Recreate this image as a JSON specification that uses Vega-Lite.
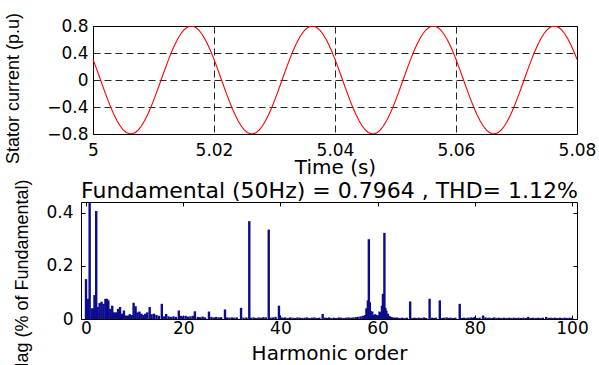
{
"$schema": "https://vega.github.io/schema/vega-lite/v6.json",
"background": "white",
"padding": {"left": 4, "top": 12, "right": 5, "bottom": 0},
"config": {
  "font": "DejaVu Sans",
  "view": {"stroke": "black", "strokeWidth": 1},
  "axis": {"labelFont": "DejaVu Sans", "labelFontSize": 17, "labelColor": "black", "titleFont": "DejaVu Sans", "titleFontWeight": "normal", "titleFontSize": 20, "titleColor": "black", "domainColor": "black", "tickColor": "black", "labelFlush": false, "labelOverlap": false, "grid": false}
},
"datasets": {
"wave": [
{"t":5,"i":0.3061},{"t":5.0005,"i":0.1868},{"t":5.001,"i":0.0628},{"t":5.0015,"i":-0.0628},{"t":5.002,"i":-0.1868},{"t":5.0025,"i":-0.3061},{"t":5.003,"i":-0.418},{"t":5.0035,"i":-0.5196},{"t":5.004,"i":-0.6083},{"t":5.0045,"i":-0.6821},{"t":5.005,"i":-0.7391},{"t":5.0055,"i":-0.7779},{"t":5.006,"i":-0.7975},{"t":5.0065,"i":-0.7975},{"t":5.007,"i":-0.7779},{"t":5.0075,"i":-0.7391},{"t":5.008,"i":-0.6821},{"t":5.0085,"i":-0.6083},{"t":5.009,"i":-0.5196},{"t":5.0095,"i":-0.418},{"t":5.01,"i":-0.3061},{"t":5.0105,"i":-0.1868},{"t":5.011,"i":-0.0628},{"t":5.0115,"i":0.0628},{"t":5.012,"i":0.1868},{"t":5.0125,"i":0.3061},{"t":5.013,"i":0.418},{"t":5.0135,"i":0.5196},{"t":5.014,"i":0.6083},{"t":5.0145,"i":0.6821},{"t":5.015,"i":0.7391},{"t":5.0155,"i":0.7779},{"t":5.016,"i":0.7975},{"t":5.0165,"i":0.7975},{"t":5.017,"i":0.7779},{"t":5.0175,"i":0.7391},{"t":5.018,"i":0.6821},{"t":5.0185,"i":0.6083},{"t":5.019,"i":0.5196},{"t":5.0195,"i":0.418},
{"t":5.02,"i":0.3061},{"t":5.0205,"i":0.1868},{"t":5.021,"i":0.0628},{"t":5.0215,"i":-0.0628},{"t":5.022,"i":-0.1868},{"t":5.0225,"i":-0.3061},{"t":5.023,"i":-0.418},{"t":5.0235,"i":-0.5196},{"t":5.024,"i":-0.6083},{"t":5.0245,"i":-0.6821},{"t":5.025,"i":-0.7391},{"t":5.0255,"i":-0.7779},{"t":5.026,"i":-0.7975},{"t":5.0265,"i":-0.7975},{"t":5.027,"i":-0.7779},{"t":5.0275,"i":-0.7391},{"t":5.028,"i":-0.6821},{"t":5.0285,"i":-0.6083},{"t":5.029,"i":-0.5196},{"t":5.0295,"i":-0.418},{"t":5.03,"i":-0.3061},{"t":5.0305,"i":-0.1868},{"t":5.031,"i":-0.0628},{"t":5.0315,"i":0.0628},{"t":5.032,"i":0.1868},{"t":5.0325,"i":0.3061},{"t":5.033,"i":0.418},{"t":5.0335,"i":0.5196},{"t":5.034,"i":0.6083},{"t":5.0345,"i":0.6821},{"t":5.035,"i":0.7391},{"t":5.0355,"i":0.7779},{"t":5.036,"i":0.7975},{"t":5.0365,"i":0.7975},{"t":5.037,"i":0.7779},{"t":5.0375,"i":0.7391},{"t":5.038,"i":0.6821},{"t":5.0385,"i":0.6083},{"t":5.039,"i":0.5196},{"t":5.0395,"i":0.418},
{"t":5.04,"i":0.3061},{"t":5.0405,"i":0.1868},{"t":5.041,"i":0.0628},{"t":5.0415,"i":-0.0628},{"t":5.042,"i":-0.1868},{"t":5.0425,"i":-0.3061},{"t":5.043,"i":-0.418},{"t":5.0435,"i":-0.5196},{"t":5.044,"i":-0.6083},{"t":5.0445,"i":-0.6821},{"t":5.045,"i":-0.7391},{"t":5.0455,"i":-0.7779},{"t":5.046,"i":-0.7975},{"t":5.0465,"i":-0.7975},{"t":5.047,"i":-0.7779},{"t":5.0475,"i":-0.7391},{"t":5.048,"i":-0.6821},{"t":5.0485,"i":-0.6083},{"t":5.049,"i":-0.5196},{"t":5.0495,"i":-0.418},{"t":5.05,"i":-0.3061},{"t":5.0505,"i":-0.1868},{"t":5.051,"i":-0.0628},{"t":5.0515,"i":0.0628},{"t":5.052,"i":0.1868},{"t":5.0525,"i":0.3061},{"t":5.053,"i":0.418},{"t":5.0535,"i":0.5196},{"t":5.054,"i":0.6083},{"t":5.0545,"i":0.6821},{"t":5.055,"i":0.7391},{"t":5.0555,"i":0.7779},{"t":5.056,"i":0.7975},{"t":5.0565,"i":0.7975},{"t":5.057,"i":0.7779},{"t":5.0575,"i":0.7391},{"t":5.058,"i":0.6821},{"t":5.0585,"i":0.6083},{"t":5.059,"i":0.5196},{"t":5.0595,"i":0.418},
{"t":5.06,"i":0.3061},{"t":5.0605,"i":0.1868},{"t":5.061,"i":0.0628},{"t":5.0615,"i":-0.0628},{"t":5.062,"i":-0.1868},{"t":5.0625,"i":-0.3061},{"t":5.063,"i":-0.418},{"t":5.0635,"i":-0.5196},{"t":5.064,"i":-0.6083},{"t":5.0645,"i":-0.6821},{"t":5.065,"i":-0.7391},{"t":5.0655,"i":-0.7779},{"t":5.066,"i":-0.7975},{"t":5.0665,"i":-0.7975},{"t":5.067,"i":-0.7779},{"t":5.0675,"i":-0.7391},{"t":5.068,"i":-0.6821},{"t":5.0685,"i":-0.6083},{"t":5.069,"i":-0.5196},{"t":5.0695,"i":-0.418},{"t":5.07,"i":-0.3061},{"t":5.0705,"i":-0.1868},{"t":5.071,"i":-0.0628},{"t":5.0715,"i":0.0628},{"t":5.072,"i":0.1868},{"t":5.0725,"i":0.3061},{"t":5.073,"i":0.418},{"t":5.0735,"i":0.5196},{"t":5.074,"i":0.6083},{"t":5.0745,"i":0.6821},{"t":5.075,"i":0.7391},{"t":5.0755,"i":0.7779},{"t":5.076,"i":0.7975},{"t":5.0765,"i":0.7975},{"t":5.077,"i":0.7779},{"t":5.0775,"i":0.7391},{"t":5.078,"i":0.6821},{"t":5.0785,"i":0.6083},{"t":5.079,"i":0.5196},{"t":5.0795,"i":0.418},
{"t":5.08,"i":0.3061}
],
"spec": [
{"h":0,"m":0.15},{"h":0.4,"m":0.076},{"h":0.75,"m":100},{"h":1.2,"m":0.04},{"h":1.5,"m":0.04},{"h":1.75,"m":0.09},{"h":2.1,"m":0.406},{"h":2.4,"m":0.045},{"h":2.8,"m":0.06},{"h":3.2,"m":0.065},{"h":3.6,"m":0.057},{"h":4.0,"m":0.076},{"h":4.3,"m":0.076},{"h":4.6,"m":0.07},{"h":5.0,"m":0.038},{"h":5.4,"m":0.05},{"h":5.8,"m":0.025},{"h":6.2,"m":0.025},{"h":6.6,"m":0.038},{"h":7.0,"m":0.045},{"h":7.4,"m":0.02},{"h":7.8,"m":0.032},{"h":8.2,"m":0.013},{"h":8.6,"m":0.013},{"h":9.0,"m":0.018},{"h":9.4,"m":0.015},{"h":9.8,"m":0.061},{"h":10.2,"m":0.048},{"h":10.6,"m":0.025},{"h":11.0,"m":0.028},{"h":11.4,"m":0.02},{"h":11.8,"m":0.015},{"h":12.2,"m":0.02},{"h":12.6,"m":0.025},{"h":13.1,"m":0.045},{"h":13.5,"m":0.018},{"h":14.0,"m":0.02},{"h":14.5,"m":0.015},{"h":15.0,"m":0.012},{"h":15.6,"m":0.057},{"h":16.0,"m":0.01},{"h":16.5,"m":0.019},{"h":17.0,"m":0.01},{"h":17.5,"m":0.008},{"h":18.0,"m":0.01},{"h":18.5,"m":0.008},{"h":19.1,"m":0.032},{"h":19.5,"m":0.012},{"h":20.0,"m":0.01},{"h":20.5,"m":0.012},{"h":21.0,"m":0.009},{"h":21.5,"m":0.01},{"h":22.0,"m":0.012},{"h":22.4,"m":0.029},{"h":23.0,"m":0.008},{"h":23.5,"m":0.007},{"h":24.0,"m":0.009},{"h":24.5,"m":0.006},{"h":25.3,"m":0.028},{"h":25.8,"m":0.008},{"h":26.3,"m":0.006},{"h":26.8,"m":0.008},{"h":27.3,"m":0.006},{"h":27.8,"m":0.007},{"h":28.6,"m":0.036},{"h":29.0,"m":0.006},{"h":29.5,"m":0.005},{"h":30.0,"m":0.006},{"h":30.5,"m":0.005},{"h":31.0,"m":0.006},{"h":31.9,"m":0.042},{"h":32.4,"m":0.005},{"h":33.0,"m":0.006},{"h":33.6,"m":0.368},{"h":34.0,"m":0.005},{"h":34.5,"m":0.006},{"h":35.0,"m":0.004},{"h":35.5,"m":0.006},{"h":36.0,"m":0.005},{"h":36.5,"m":0.007},{"h":37.0,"m":0.006},{"h":37.6,"m":0.336},{"h":38.0,"m":0.005},{"h":38.5,"m":0.006},{"h":39.0,"m":0.008},{"h":39.7,"m":0.05},{"h":40.2,"m":0.006},{"h":40.6,"m":0.005},{"h":41.0,"m":0.006},{"h":41.5,"m":0.004},{"h":42.0,"m":0.006},{"h":42.5,"m":0.005},{"h":43.0,"m":0.004},{"h":43.5,"m":0.006},{"h":44.0,"m":0.005},{"h":44.5,"m":0.004},{"h":45.0,"m":0.005},{"h":45.5,"m":0.006},{"h":46.0,"m":0.004},{"h":46.5,"m":0.005},{"h":47.0,"m":0.006},{"h":47.5,"m":0.004},{"h":48.0,"m":0.005},{"h":48.7,"m":0.019},{"h":49.2,"m":0.005},{"h":49.6,"m":0.004},{"h":50.0,"m":0.006},{"h":50.5,"m":0.004},{"h":51.0,"m":0.005},{"h":51.5,"m":0.004},{"h":52.0,"m":0.006},{"h":52.5,"m":0.005},{"h":53.0,"m":0.004},{"h":53.5,"m":0.005},{"h":54.0,"m":0.006},{"h":54.5,"m":0.005},{"h":55.0,"m":0.006},{"h":55.5,"m":0.007},{"h":56.0,"m":0.008},{"h":56.5,"m":0.01},{"h":57.0,"m":0.012},{"h":57.4,"m":0.015},{"h":57.7,"m":0.04},{"h":58.0,"m":0.07},{"h":58.2,"m":0.3},{"h":58.4,"m":0.063},{"h":58.6,"m":0.03},{"h":58.9,"m":0.028},{"h":59.2,"m":0.015},{"h":59.5,"m":0.018},{"h":59.8,"m":0.015},{"h":60.1,"m":0.012},{"h":60.4,"m":0.028},{"h":60.7,"m":0.025},{"h":60.9,"m":0.05},{"h":61.1,"m":0.095},{"h":61.4,"m":0.324},{"h":61.6,"m":0.042},{"h":61.8,"m":0.032},{"h":62.1,"m":0.02},{"h":62.4,"m":0.012},{"h":62.8,"m":0.008},{"h":63.2,"m":0.006},{"h":63.6,"m":0.005},{"h":64.0,"m":0.006},{"h":64.5,"m":0.004},{"h":65.0,"m":0.005},{"h":65.5,"m":0.004},{"h":66.0,"m":0.005},{"h":66.7,"m":0.066},{"h":67.2,"m":0.004},{"h":67.6,"m":0.005},{"h":68.0,"m":0.004},{"h":68.5,"m":0.005},{"h":69.0,"m":0.004},{"h":69.5,"m":0.006},{"h":70.0,"m":0.004},{"h":70.7,"m":0.076},{"h":71.2,"m":0.005},{"h":71.6,"m":0.004},{"h":72.0,"m":0.005},{"h":72.8,"m":0.07},{"h":73.3,"m":0.004},{"h":73.7,"m":0.005},{"h":74.2,"m":0.006},{"h":74.6,"m":0.004},{"h":75.0,"m":0.005},{"h":75.5,"m":0.004},{"h":76.0,"m":0.005},{"h":76.9,"m":0.057},{"h":77.4,"m":0.004},{"h":77.8,"m":0.005},{"h":78.3,"m":0.004},{"h":78.7,"m":0.005},{"h":79.2,"m":0.006},{"h":79.6,"m":0.005},{"h":80.0,"m":0.008},{"h":80.5,"m":0.004},{"h":81.0,"m":0.005},{"h":81.7,"m":0.013},{"h":82.2,"m":0.006},{"h":82.6,"m":0.004},{"h":83.0,"m":0.005},{"h":83.5,"m":0.004},{"h":84.0,"m":0.006},{"h":84.5,"m":0.004},{"h":85.0,"m":0.005},{"h":85.5,"m":0.004},{"h":86.0,"m":0.005},{"h":86.5,"m":0.004},{"h":87.0,"m":0.005},{"h":87.5,"m":0.004},{"h":88.0,"m":0.005},{"h":88.5,"m":0.004},{"h":89.0,"m":0.005},{"h":89.5,"m":0.004},{"h":90.0,"m":0.005},{"h":90.5,"m":0.004},{"h":91.0,"m":0.008},{"h":91.5,"m":0.004},{"h":92.0,"m":0.005},{"h":92.5,"m":0.004},{"h":93.0,"m":0.005},{"h":93.5,"m":0.004},{"h":94.0,"m":0.005},{"h":94.7,"m":0.008},{"h":95.2,"m":0.004},{"h":95.6,"m":0.005},{"h":96.0,"m":0.004},{"h":96.5,"m":0.005},{"h":97.0,"m":0.004},{"h":97.5,"m":0.005},{"h":98.0,"m":0.004},{"h":98.5,"m":0.005},{"h":99.0,"m":0.004},{"h":99.5,"m":0.005},{"h":100,"m":0.004}
]
},
"spacing": 1,
"vconcat": [
{
  "width": 496,
  "height": 108,
  "view": {"stroke": null},
  "data": {"name": "wave"},
  "layer": [
    {
      "mark": {"type": "line", "color": "#ff0000", "strokeWidth": 1.1, "clip": true},
      "encoding": {
        "x": {"field": "t", "type": "quantitative",
          "scale": {"domain": [5, 5.08], "nice": false, "zero": false, "range": [12, 496]},
          "axis": {"values": [5, 5.02, 5.04, 5.06, 5.08], "format": "~g", "title": "Time (s)", "grid": true, "gridDash": [7, 4], "gridColor": "black", "gridOpacity": 0.85, "ticks": false, "labelPadding": 8, "titlePadding": -1}},
        "y": {"field": "i", "type": "quantitative",
          "scale": {"domain": [-0.8, 0.8], "nice": false, "zero": false},
          "axis": {"values": [-0.8, -0.4, 0, 0.4, 0.8], "format": "~g", "offset": -12, "title": "Stator current (p.u)", "titleFont": "Liberation Sans", "titleFontSize": 18, "titleY": 62, "grid": true, "gridDash": [7, 4], "gridColor": "black", "gridOpacity": 0.85, "ticks": false, "labelPadding": 5, "titlePadding": 24}}
      }
    },
    {
      "mark": {"type": "point", "opacity": 0, "clip": true},
      "encoding": {
        "x": {"field": "t", "type": "quantitative",
          "axis": {"orient": "top", "labels": false, "ticks": false, "title": null, "domain": true}},
        "y": {"field": "i", "type": "quantitative",
          "axis": {"orient": "right", "labels": false, "ticks": false, "title": null, "domain": true}}
      }
    }
  ],
  "resolve": {"axis": {"x": "independent", "y": "independent"}}
},
{
  "width": 496,
  "height": 117,
  "data": {"name": "spec"},
  "layer": [
    {
      "mark": {"type": "bar", "color": "#0c0c8e", "size": 2.4, "clip": true},
      "encoding": {
        "x": {"field": "h", "type": "quantitative",
          "scale": {"domain": [0, 100], "nice": false},
          "axis": {"values": [0, 20, 40, 60, 80, 100], "title": "Harmonic order", "tickSize": -4, "labelPadding": 5, "titlePadding": 7}},
        "y": {"field": "m", "type": "quantitative",
          "scale": {"domain": [0, 0.44], "nice": false},
          "axis": {"values": [0, 0.2, 0.4], "format": "~g", "title": "Mag (% of Fundamental)", "titleFont": "Liberation Sans", "titleFontSize": 18, "titleY": 76, "tickSize": -4, "labelPadding": 12, "titlePadding": 14}}
      }
    },
    {
      "mark": {"type": "point", "opacity": 0, "clip": true},
      "encoding": {
        "x": {"field": "h", "type": "quantitative",
          "axis": {"orient": "top", "values": [0, 20, 40, 60, 80, 100], "labels": false, "domain": false, "tickSize": -4, "title": "Fundamental (50Hz) = 0.7964 , THD= 1.12%", "titleFontSize": 22, "titlePadding": -1}},
        "y": {"field": "m", "type": "quantitative",
          "axis": {"orient": "right", "values": [0, 0.2, 0.4], "labels": false, "domain": false, "tickSize": -4, "title": null}}
      }
    }
  ],
  "resolve": {"axis": {"x": "independent", "y": "independent"}}
}
]
}
